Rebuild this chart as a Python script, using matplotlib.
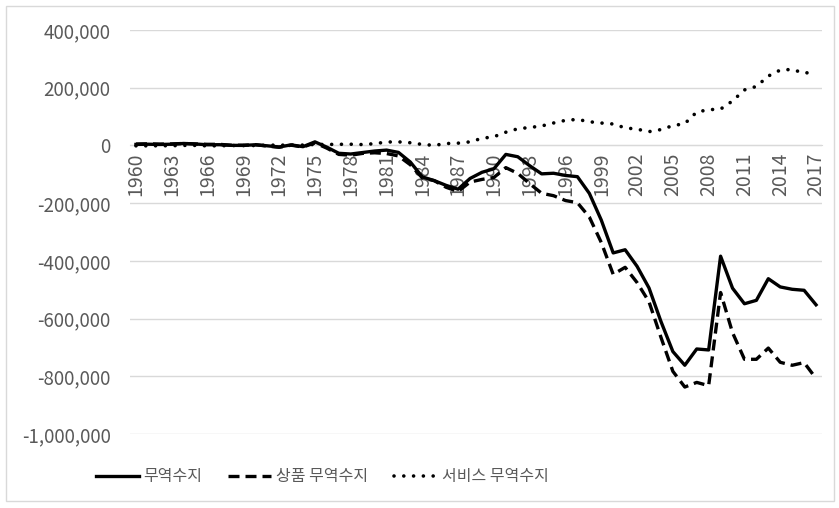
import numpy as np
import matplotlib
matplotlib.use("Agg")
import matplotlib.pyplot as plt
from matplotlib.patches import Rectangle
from matplotlib.ticker import FuncFormatter

plt.rcParams['font.family'] = ['Noto Sans CJK KR', 'DejaVu Sans']

years = list(range(1960, 2018))

# 무역수지 (total balance)
total = [3508, 4195, 3370, 4210, 6831, 4942, 2321, 2534, 251, 91,
         2254, -1302, -5443, 1900, -4293, 12404, -6082, -27246, -29763, -24565,
         -19407, -16172, -24156, -57767, -109072, -121880, -138538, -151684, -114566, -93141,
         -80864, -31135, -39212, -70311, -98493, -96384, -104065, -108273, -166140, -258617,
         -372517, -361511, -418955, -493890, -609883, -714245, -761716, -705375, -708726, -383774,
         -494658, -548625, -536773, -461876, -490336, -498524, -502007, -552277]

# 상품 무역수지 (goods balance)
goods = [4892, 5571, 4521, 5224, 6801, 4951, 3817, 3800, 635, 607,
         2603, -2260, -6416, 911, -5505, 8903, -9483, -31091, -33927, -27568,
         -25500, -28023, -36485, -67102, -112492, -122173, -145081, -159557, -126959, -117749,
         -111037, -76937, -96897, -132451, -165831, -174170, -191000, -198428, -248221, -336266,
         -446783, -422370, -475245, -541643, -664766, -782804, -837289, -821196, -832492, -509694,
         -648671, -740999, -741119, -702244, -751531, -761868, -752507, -807495]

# 서비스 무역수지 (services balance)
services = [-1384, -1376, -1151, -1014, 30, -9, -1496, -1266, -384, -516,
            -349, 957, 973, 989, 1213, 3501, 3401, 3845, 4164, 3003,
            6093, 11851, 12329, 9335, 3419, 294, 6543, 7874, 12393, 24607,
            30173, 45802, 57685, 62141, 67338, 77786, 86935, 90155, 82081, 77649,
            74266, 60859, 56290, 47753, 54883, 68559, 75573, 115821, 123766, 125920,
            154013, 192374, 204346, 240368, 261195, 263344, 250500, 255218]

labels = ['무역수지', '상품 무역수지', '서비스 무역수지']
y_ticks = [400000, 200000, 0, -200000, -400000, -600000, -800000, -1000000]
x_ticks = years[::3]

grey_text = '#595959'
grid_col = '#d9d9d9'

fig = plt.figure(figsize=(8.39, 5.08), dpi=100)
ax = fig.add_axes([130 / 839, 1 - 434 / 508, (822 - 130) / 839, (434 - 30) / 508])

ax.plot(years, total, color='black', lw=2.4, label=labels[0], zorder=4)
ax.plot(years, goods, color='black', lw=2.4, linestyle=(0, (3.3, 1.8)), label=labels[1], zorder=3)
ax.plot(years, services, color='black', lw=2.6, linestyle=(0, (0.01, 2.7)),
        dash_capstyle='round', label=labels[2], zorder=3)

ax.set_xlim(1959.5, 2017.5)
ax.set_ylim(-1000000, 400000)

ax.grid(axis='y', color=grid_col, lw=1)
ax.set_axisbelow(True)
for s in ['top', 'right', 'left']:
    ax.spines[s].set_visible(False)
ax.spines['bottom'].set_position(('data', 0))
ax.spines['bottom'].set_color(grid_col)

# ticks after moving the spine (moving it resets the tick labels)
ax.set_yticks(y_ticks)
ax.yaxis.set_major_formatter(FuncFormatter(lambda v, p: f'{int(v):,}'))
ax.set_xticks(x_ticks)
ax.set_xticklabels([str(y) for y in x_ticks])
ax.tick_params(axis='y', length=0, pad=14, labelsize=13.5, labelcolor=grey_text)
ax.tick_params(axis='x', length=0, pad=5, labelsize=14, labelcolor=grey_text, labelrotation=90)

leg = fig.legend(loc='center', bbox_to_anchor=(322 / 839, 1 - 477 / 508), ncol=3,
                 frameon=False, fontsize=11.5, handlelength=2.7, handletextpad=0.3,
                 columnspacing=1.6)
for t in leg.get_texts():
    t.set_color(grey_text)

fig.patches.append(Rectangle((6 / 839, 1 - 501 / 508), 828 / 839, 495 / 508,
                             transform=fig.transFigure, fill=False,
                             edgecolor=grid_col, lw=1))

fig.savefig('out.png', dpi=100)
